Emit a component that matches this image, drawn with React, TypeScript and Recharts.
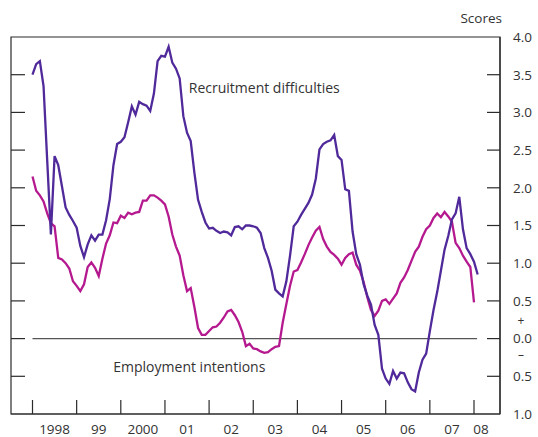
import { Line, LineChart, ReferenceArea, ReferenceDot, ReferenceLine, XAxis, YAxis } from 'recharts';

// monthly scores, Jan 1998 onwards
const startYear = 1998;

const recruitment = [
  3.5, 3.64, 3.68, 3.35, 2.36, 1.38, 2.42, 2.3, 2.02, 1.74, 1.64, 1.56,
  1.47, 1.23, 1.08, 1.25, 1.37, 1.3, 1.38, 1.38, 1.57, 1.85, 2.3, 2.58,
  2.61, 2.67, 2.87, 3.08, 2.97, 3.14, 3.11, 3.09, 3.02, 3.25, 3.68, 3.75,
  3.74, 3.87, 3.66, 3.58, 3.45, 2.95, 2.73, 2.62, 2.2, 1.84, 1.68, 1.54,
  1.46, 1.47, 1.43, 1.4, 1.42, 1.41, 1.37, 1.48, 1.49, 1.45, 1.5, 1.5,
  1.49, 1.47, 1.4, 1.2, 1.07, 0.9, 0.65, 0.6, 0.56, 0.76, 1.1, 1.49,
  1.55, 1.64, 1.72, 1.8, 1.91, 2.12, 2.51, 2.58, 2.61, 2.63, 2.7, 2.42,
  2.37, 1.98, 1.96, 1.42, 1.12, 0.98, 0.72, 0.57, 0.45, 0.18, 0.05, -0.4,
  -0.53, -0.6, -0.43, -0.53, -0.45, -0.46, -0.58, -0.67, -0.7, -0.45, -0.28, -0.2,
  0.1, 0.38, 0.62, 0.9, 1.18, 1.36, 1.58, 1.66, 1.88, 1.45, 1.2, 1.12,
  1.02, 0.85,
];

const employment = [
  2.15, 1.96, 1.9, 1.82, 1.66, 1.53, 1.49, 1.07, 1.05, 1.0, 0.93, 0.76,
  0.7, 0.63, 0.72, 0.95, 1.01, 0.94, 0.83, 1.06, 1.26, 1.37, 1.54, 1.53,
  1.63, 1.6, 1.67, 1.65, 1.67, 1.68, 1.83, 1.83, 1.9, 1.9, 1.87, 1.83,
  1.78, 1.62, 1.38, 1.22, 1.1, 0.84, 0.63, 0.67, 0.42, 0.14, 0.05, 0.05,
  0.1, 0.15, 0.16, 0.21, 0.28, 0.36, 0.38, 0.31, 0.22, 0.09, -0.1, -0.07,
  -0.13, -0.14, -0.17, -0.19, -0.18, -0.14, -0.11, -0.1, 0.21, 0.46, 0.7, 0.89,
  0.91, 1.01, 1.12, 1.24, 1.34, 1.43, 1.48, 1.32, 1.22, 1.15, 1.11, 1.06,
  0.98, 1.07, 1.12, 1.14, 0.98, 0.9, 0.75, 0.55, 0.38, 0.3, 0.37, 0.5,
  0.52, 0.46, 0.53, 0.6, 0.74, 0.81, 0.91, 1.03, 1.15, 1.22, 1.35, 1.45,
  1.5, 1.6, 1.66, 1.61, 1.68, 1.62, 1.55, 1.27, 1.2, 1.1, 1.02, 0.95,
  0.48,
];

const yearTicks = [1998, 1999, 2000, 2001, 2002, 2003, 2004, 2005, 2006, 2007, 2008];
const yearLabels = ['1998', '99', '2000', '01', '02', '03', '04', '05', '06', '07', '08'];
const scoreTicks = [-1, -0.5, 0, 0.5, 1, 1.5, 2, 2.5, 3, 3.5, 4];

const xDomain = [1997.513, 2008.589];
const width = 538;
const height = 437;
const plotLeft = 11;
const plotRight = 500;
const yearPx = (plotRight - plotLeft) / (xDomain[1] - xDomain[0]);

const frame = '#2b2b2b';
const textColor = '#333';
const font = "'Open Sans', sans-serif";
const purple = '#50299a';
const magenta = '#b5198f';

const chartData = recruitment.map((r, i) => ({
  t: startYear + i / 12,
  recruitment: r,
  employment: i < employment.length ? employment[i] : null,
}));

const XTick = ({ x, y, payload }: any) => {
  const idx = yearTicks.indexOf(payload.value);
  const off = payload.value === 2008 ? 7 : yearPx / 2;
  return (
    <g>
      <line x1={x} y1={y} x2={x} y2={y - 14} stroke={frame} strokeWidth={1.2} />
      <text x={x + off} y={y + 19.5} textAnchor='middle' fill={textColor} fontSize={13.5} fontFamily={font}>
        {yearLabels[idx]}
      </text>
    </g>
  );
};

const LeftTick = ({ x, y, payload }: any) => {
  if (payload.value === 4 || payload.value === -1) return null;
  return <line x1={x} y1={y} x2={x + 14} y2={y} stroke={frame} strokeWidth={1.2} />;
};

const RightTick = ({ x, y, payload }: any) => {
  const v = payload.value;
  const edge = v === 4 || v === -1;
  return (
    <g>
      {!edge && <line x1={x} y1={y} x2={x - 13} y2={y} stroke={frame} strokeWidth={1.2} />}
      <text x={x + 32} y={y} dy='0.36em' textAnchor='end' fill={textColor} fontSize={13.5} fontFamily={font}>
        {Math.abs(v).toFixed(1)}
      </text>
      {v === 0 && (
        <>
          <text x={x + 21} y={y - 18} dy='0.36em' textAnchor='middle' fill={textColor} fontSize={12} fontFamily={font}>
            +
          </text>
          <text x={x + 21} y={y + 16} dy='0.36em' textAnchor='middle' fill={textColor} fontSize={12} fontFamily={font}>
            –
          </text>
        </>
      )}
    </g>
  );
};

const seriesLabel = (text: string) => ({ viewBox }: any) => (
  <text x={viewBox.x} y={viewBox.y} dy='0.36em' fill={textColor} fontSize={14} fontFamily={font}>
    {text}
  </text>
);

export default function App() {
  return (
    <div style={{ position: 'absolute', left: 0, top: 0, width, height, background: '#fff' }}>
      <LineChart width={width} height={height} data={chartData} margin={{ top: 37, right: 0, bottom: 0, left: plotLeft - 1 }}>
        <XAxis
          dataKey='t'
          type='number'
          domain={xDomain}
          allowDataOverflow
          ticks={yearTicks}
          interval={0}
          tick={<XTick />}
          tickLine={false}
          tickSize={0}
          tickMargin={0}
          axisLine={{ stroke: frame, strokeWidth: 1.2 }}
          height={23}
        />
        <YAxis
          yAxisId='left'
          type='number'
          domain={[-1, 4]}
          allowDataOverflow
          ticks={scoreTicks}
          interval={0}
          tick={<LeftTick />}
          tickLine={false}
          tickSize={0}
          tickMargin={0}
          axisLine={false}
          width={1}
        />
        <YAxis
          yAxisId='right'
          orientation='right'
          type='number'
          domain={[-1, 4]}
          allowDataOverflow
          ticks={scoreTicks}
          interval={0}
          tick={<RightTick />}
          tickLine={false}
          tickSize={0}
          tickMargin={0}
          axisLine={{ stroke: frame, strokeWidth: 1.2 }}
          width={38}
          label={({ viewBox }: any) => (
            <text x={viewBox.x + 2} y={viewBox.y - 14} textAnchor='end' fill={textColor} fontSize={13.5} fontFamily={font}>
              Scores
            </text>
          )}
        />
        <ReferenceArea
          yAxisId='right'
          x1={xDomain[0]}
          x2={xDomain[1]}
          y1={-1}
          y2={4}
          fill='none'
          fillOpacity={0}
          stroke={frame}
          strokeWidth={1.2}
          strokeOpacity={1}
        />
        <ReferenceLine
          yAxisId='right'
          segment={[
            { x: 1998, y: 0 },
            { x: 2008.07, y: 0 },
          ]}
          stroke='#555'
          strokeWidth={1.2}
        />
        <Line
          yAxisId='right'
          dataKey='employment'
          stroke={magenta}
          strokeWidth={2.3}
          dot={false}
          isAnimationActive={false}
        />
        <Line
          yAxisId='right'
          dataKey='recruitment'
          stroke={purple}
          strokeWidth={2.3}
          dot={false}
          isAnimationActive={false}
        />
        <ReferenceDot
          yAxisId='right'
          x={2001.54}
          y={3.32}
          r={0}
          fill='none'
          stroke='none'
          label={seriesLabel('Recruitment difficulties')}
        />
        <ReferenceDot
          yAxisId='right'
          x={1999.83}
          y={-0.38}
          r={0}
          fill='none'
          stroke='none'
          label={seriesLabel('Employment intentions')}
        />
      </LineChart>
    </div>
  );
}
